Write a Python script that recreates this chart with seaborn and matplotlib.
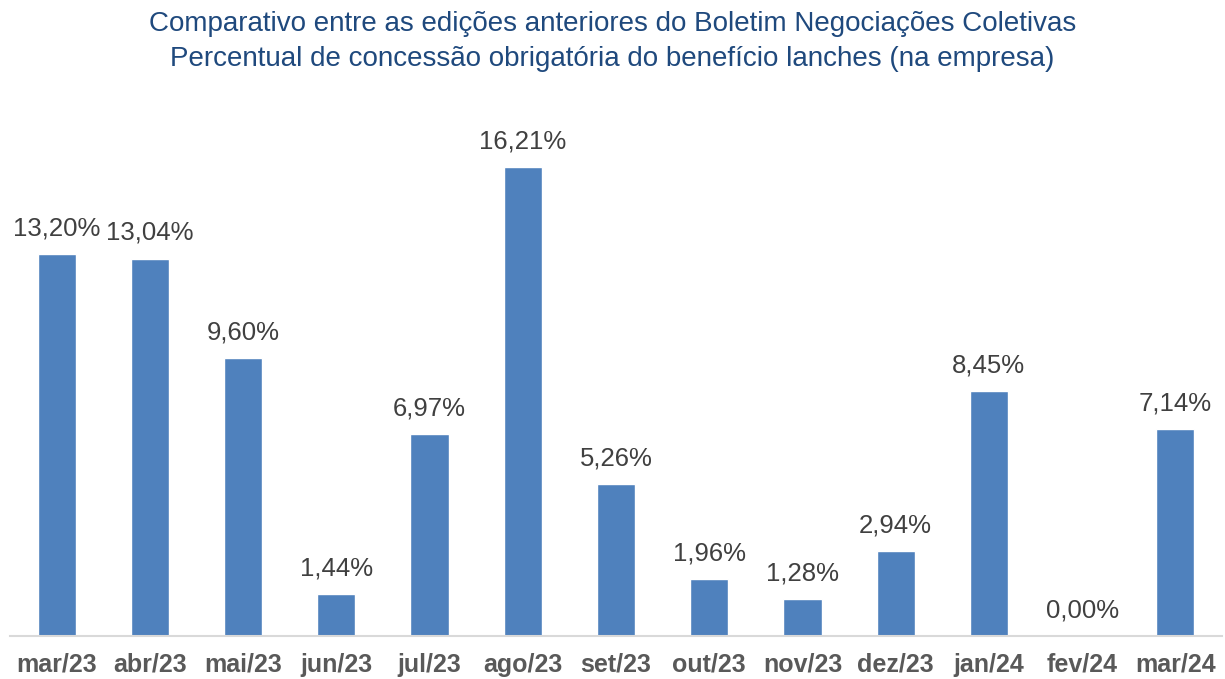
import matplotlib
matplotlib.use("Agg")
import matplotlib.pyplot as plt
import seaborn as sns
import pandas as pd

categories = ["mar/23", "abr/23", "mai/23", "jun/23", "jul/23", "ago/23", "set/23",
              "out/23", "nov/23", "dez/23", "jan/24", "fev/24", "mar/24"]
values = [13.20, 13.04, 9.60, 1.44, 6.97, 16.21, 5.26, 1.96, 1.28, 2.94, 8.45, 0.00, 7.14]
title_lines = ["Comparativo entre as edições anteriores do Boletim Negociações Coletivas",
               "Percentual de concessão obrigatória do benefício lanches (na empresa)"]

sns.set_theme(style="white")
plt.rcParams['font.family'] = ['Liberation Sans', 'DejaVu Sans']

df = pd.DataFrame({"mes": categories, "valor": values})

fig = plt.figure(figsize=(12.25, 6.79), dpi=100)
ax = fig.add_axes([10/1225, 43/679, 1212/1225, (636-115)/679])
sns.barplot(data=df, x="mes", y="valor", color="#4F81BD", saturation=1, width=0.41, ax=ax)

ax.set_xlim(-0.5, len(categories) - 0.5)
ax.set_ylim(0, 18)
ax.set_xlabel("")
ax.set_ylabel("")
ax.set_yticks([])
for s in ["top", "right", "left"]:
    ax.spines[s].set_visible(False)
ax.spines["bottom"].set_color("#D9D9D9")
ax.spines["bottom"].set_linewidth(1.5)
ax.tick_params(axis="x", length=0, pad=12)
for lab in ax.get_xticklabels():
    lab.set_fontsize(18)
    lab.set_fontweight("bold")
    lab.set_color("#595959")

for i, v in enumerate(values):
    ax.annotate(f"{v:.2f}%".replace(".", ","), xy=(i, v), xytext=(0, 18.5),
                textcoords="offset points", ha="center", va="center",
                fontsize=18.5, color="#404040")

fig.text(0.5, 1 - 24/679, title_lines[0], ha="center", va="center", fontsize=20, color="#1F497D")
fig.text(0.5, 1 - 59/679, title_lines[1], ha="center", va="center", fontsize=20, color="#1F497D")

fig.savefig("out.png", dpi=100)
